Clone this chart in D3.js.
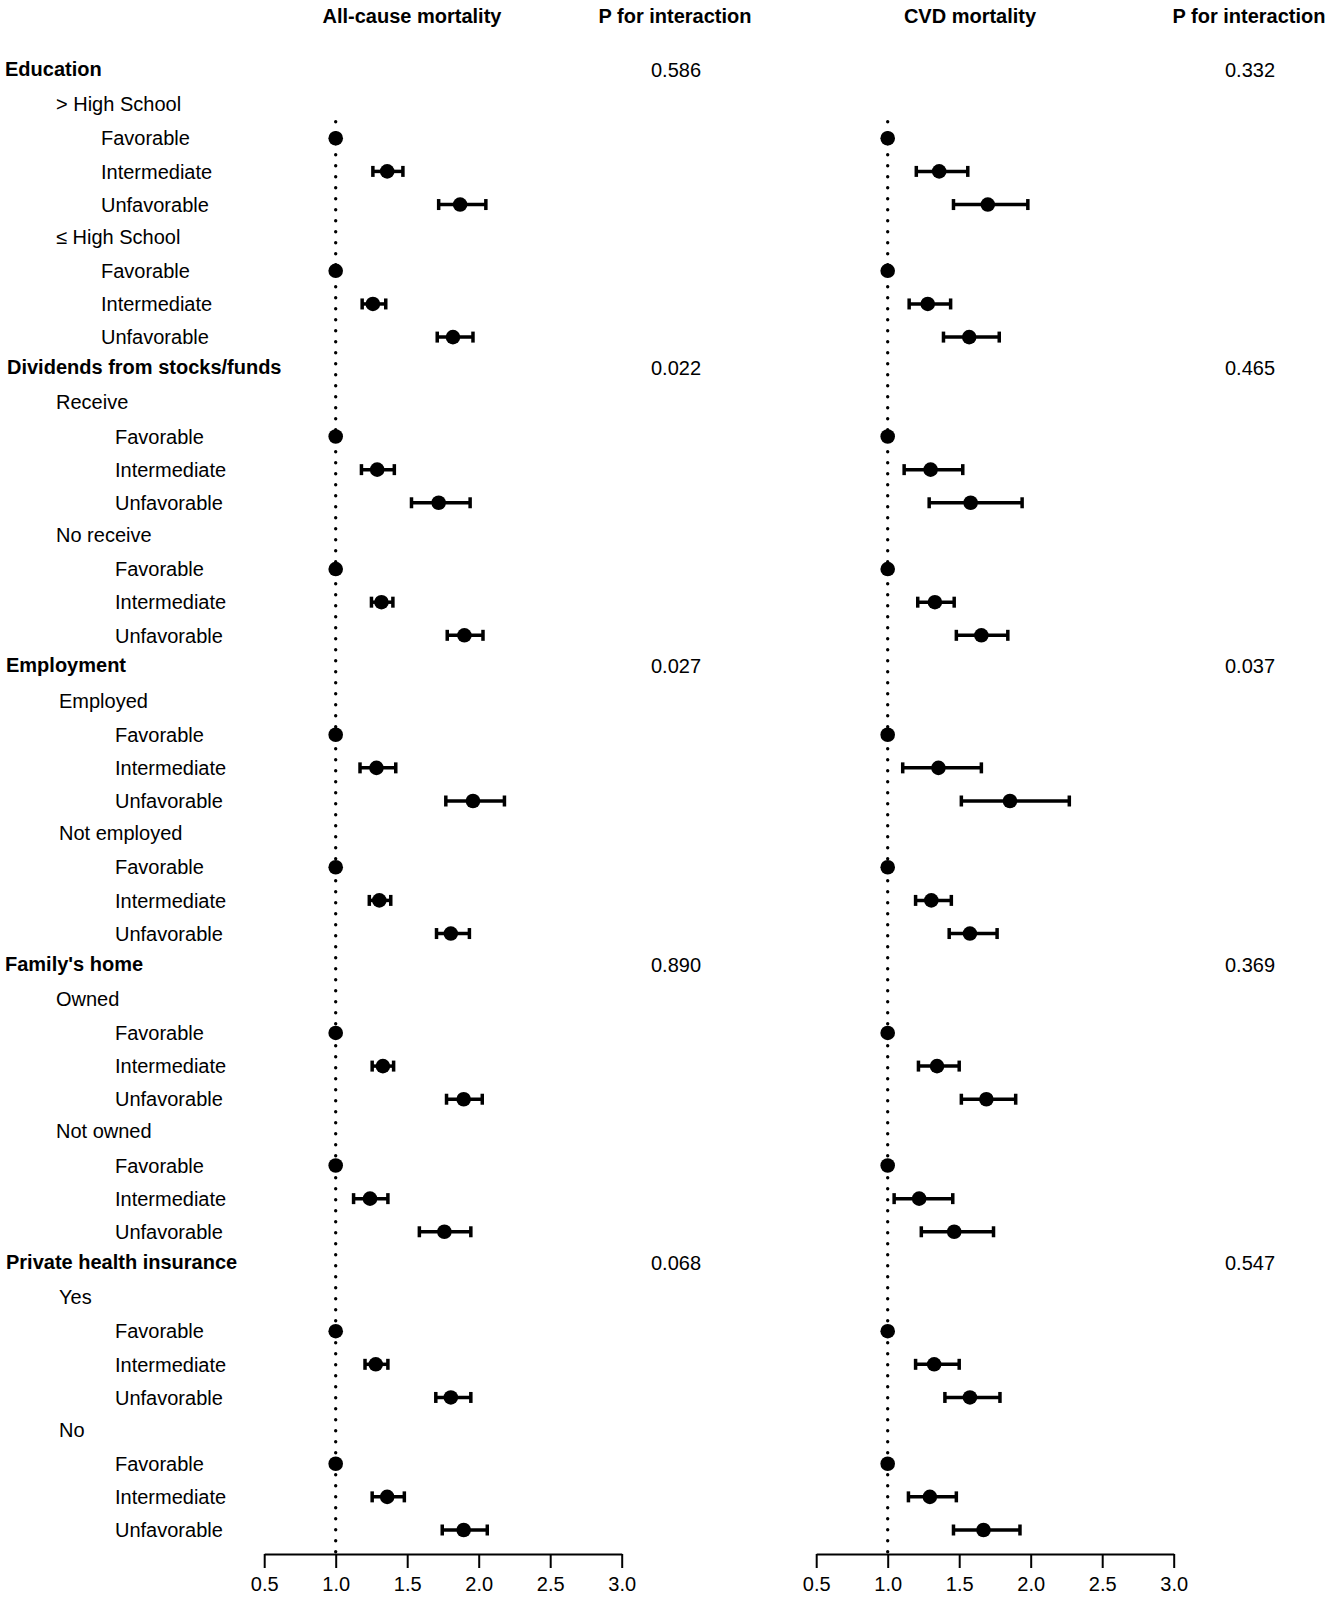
<!DOCTYPE html>
<html>
<head>
<meta charset="utf-8">
<script src="https://cdn.jsdelivr.net/npm/d3@7"></script>
<style>
  body { margin: 0; background: #fff; }
  text { font-family: "Liberation Sans", Arial, sans-serif; fill: #000; }
</style>
</head>
<body>
<div id="chart"></div>
<script>
// categories
const groups = ["Education", "Dividends from stocks/funds", "Employment", "Family's home", "Private health insurance"];
const subgroups = [
  ["> High School", "\u2264 High School"],
  ["Receive", "No receive"],
  ["Employed", "Not employed"],
  ["Owned", "Not owned"],
  ["Yes", "No"]
];
const levels = ["Favorable", "Intermediate", "Unfavorable"];

// P for interaction
const pAll = ["0.586", "0.022", "0.027", "0.890", "0.068"];
const pCvd = ["0.332", "0.465", "0.037", "0.369", "0.547"];

// hazard ratios per subgroup (Favorable = reference, no CI)
const allHR = [[1, 1.36, 1.87], [1, 1.26, 1.82], [1, 1.29, 1.72], [1, 1.32, 1.90], [1, 1.285, 1.96],
               [1, 1.305, 1.805], [1, 1.33, 1.895], [1, 1.24, 1.76], [1, 1.28, 1.805], [1, 1.36, 1.895]];
const allLo = [[null, 1.26, 1.72], [null, 1.185, 1.71], [null, 1.18, 1.53], [null, 1.25, 1.78], [null, 1.17, 1.77],
               [null, 1.235, 1.705], [null, 1.255, 1.775], [null, 1.125, 1.585], [null, 1.205, 1.70], [null, 1.255, 1.745]];
const allHi = [[null, 1.47, 2.05], [null, 1.35, 1.96], [null, 1.41, 1.94], [null, 1.40, 2.03], [null, 1.42, 2.18],
               [null, 1.385, 1.935], [null, 1.405, 2.025], [null, 1.365, 1.945], [null, 1.365, 1.945], [null, 1.48, 2.06]];

const cvdHR = [[1, 1.36, 1.70], [1, 1.28, 1.57], [1, 1.30, 1.58], [1, 1.33, 1.655], [1, 1.355, 1.855],
               [1, 1.305, 1.575], [1, 1.345, 1.69], [1, 1.22, 1.465], [1, 1.325, 1.575], [1, 1.295, 1.67]];
const cvdLo = [[null, 1.20, 1.46], [null, 1.15, 1.39], [null, 1.115, 1.29], [null, 1.21, 1.48], [null, 1.105, 1.515],
               [null, 1.195, 1.43], [null, 1.215, 1.515], [null, 1.045, 1.235], [null, 1.195, 1.40], [null, 1.145, 1.46]];
const cvdHi = [[null, 1.56, 1.98], [null, 1.44, 1.78], [null, 1.525, 1.94], [null, 1.465, 1.84], [null, 1.655, 2.27],
               [null, 1.445, 1.765], [null, 1.50, 1.895], [null, 1.455, 1.74], [null, 1.50, 1.785], [null, 1.48, 1.925]];

const tickValues = [0.5, 1.0, 1.5, 2.0, 2.5, 3.0];

// layout
const width = 1325, height = 1597;
const headerX = [5, 7, 6, 5, 6];
const subX = [56, 56, 59, 56, 59];
const levelX = [101, 115, 115, 115, 115];
const axisY = 1554;

// build row list
let rows = [];
let idx = 0;
groups.forEach((g, gi) => {
  rows.push({ type: "header", label: g, g: gi, i: idx++ });
  subgroups[gi].forEach((s, si) => {
    rows.push({ type: "sub", label: s, g: gi, i: idx++ });
    levels.forEach((l, li) => {
      rows.push({ type: "level", label: l, g: gi, s: gi * 2 + si, l: li, i: idx++ });
    });
  });
});

const y = d3.scaleLinear().domain([0, idx - 1]).range([72, 1530]);

const svg = d3.select("#chart").append("svg")
  .attr("width", width)
  .attr("height", height);

// row labels
svg.selectAll(".row-label")
  .data(rows)
  .join("text")
  .attr("class", "row-label")
  .attr("x", d => d.type === "header" ? headerX[d.g] : d.type === "sub" ? subX[d.g] : levelX[d.g])
  .attr("y", d => y(d.i) + (d.type === "header" ? 4 : d.type === "sub" ? 6 : 7.2))
  .attr("font-size", "20px")
  .attr("font-weight", d => d.type === "header" ? "bold" : "normal")
  .text(d => d.label);

function drawPanel(x, hr, lo, hi, pvals, title, titleX, pX) {
  // titles
  svg.append("text")
    .attr("x", titleX).attr("y", 23)
    .attr("text-anchor", "middle")
    .attr("font-size", "20px").attr("font-weight", "bold")
    .text(title);
  svg.append("text")
    .attr("x", pX).attr("y", 23)
    .attr("text-anchor", "middle")
    .attr("font-size", "20px").attr("font-weight", "bold")
    .text("P for interaction");

  // p values on header rows
  const headers = rows.filter(d => d.type === "header");
  svg.append("g").selectAll("text")
    .data(headers)
    .join("text")
    .attr("x", pX + 1)
    .attr("y", d => y(d.i) + 5)
    .attr("text-anchor", "middle")
    .attr("font-size", "20px")
    .text(d => pvals[d.g]);

  // reference line at 1
  svg.append("line")
    .attr("x1", x(1)).attr("x2", x(1))
    .attr("y1", y(1.5)).attr("y2", axisY)
    .attr("stroke", "#000")
    .attr("stroke-width", 3.4)
    .attr("stroke-linecap", "round")
    .attr("stroke-dasharray", "0,11");

  // axis
  const axis = svg.append("g")
    .attr("transform", `translate(0,${axisY})`)
    .call(d3.axisBottom(x).tickValues(tickValues).tickFormat(d3.format(".1f"))
      .tickSize(14).tickSizeOuter(0).tickPadding(9));
  axis.select(".domain").attr("stroke-width", 2);
  axis.selectAll(".tick line").attr("stroke-width", 2);
  axis.selectAll(".tick text")
    .attr("font-size", "20px")
    .attr("font-family", "'Liberation Sans', Arial, sans-serif");

  const pts = rows.filter(d => d.type === "level");
  const ci = pts.filter(d => lo[d.s][d.l] !== null);

  const g = svg.append("g");
  g.selectAll(".ci")
    .data(ci)
    .join("line")
    .attr("class", "ci")
    .attr("x1", d => x(lo[d.s][d.l]))
    .attr("x2", d => x(hi[d.s][d.l]))
    .attr("y1", d => y(d.i)).attr("y2", d => y(d.i))
    .attr("stroke", "#000").attr("stroke-width", 3.5);

  ["lo", "hi"].forEach(side => {
    const arr = side === "lo" ? lo : hi;
    g.selectAll(".cap-" + side)
      .data(ci)
      .join("line")
      .attr("class", "cap-" + side)
      .attr("x1", d => x(arr[d.s][d.l])).attr("x2", d => x(arr[d.s][d.l]))
      .attr("y1", d => y(d.i) - 5.5).attr("y2", d => y(d.i) + 5.5)
      .attr("stroke", "#000").attr("stroke-width", 3.5);
  });

  g.selectAll(".dot")
    .data(pts)
    .join("circle")
    .attr("class", "dot")
    .attr("cx", d => x(hr[d.s][d.l]))
    .attr("cy", d => y(d.i))
    .attr("r", 7.3)
    .attr("fill", "#000");
}

const xAll = d3.scaleLinear().domain([0.5, 3]).range([264.2, 621.7]);
const xCvd = d3.scaleLinear().domain([0.5, 3]).range([816.2, 1173.7]);

drawPanel(xAll, allHR, allLo, allHi, pAll, "All-cause mortality", 412, 675);
drawPanel(xCvd, cvdHR, cvdLo, cvdHi, pCvd, "CVD mortality", 970, 1249);
</script>
</body>
</html>
